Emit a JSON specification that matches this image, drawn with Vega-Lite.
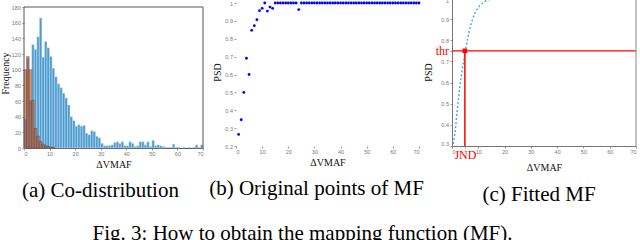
{
  "$schema": "https://vega.github.io/schema/vega-lite/v6.json",
  "padding": {"left": 0, "top": -5, "right": 0, "bottom": 0},
  "background": "white",
  "bounds": "flush",
  "spacing": 33,
  "config": {
    "view": {"stroke": null},
    "axis": {
      "grid": false,
      "labelFont": "Liberation Sans",
      "labelFontSize": 5.5,
      "labelColor": "#777",
      "labelPadding": 1.5,
      "titleFont": "Liberation Serif",
      "titleFontSize": 10,
      "titleFontWeight": "normal",
      "titleColor": "#111",
      "titlePadding": 2,
      "tickSize": 2,
      "tickColor": "#999",
      "domainColor": "#666",
      "labelOverlap": false
    },
    "title": {"font": "Liberation Serif", "fontSize": 21, "fontWeight": "normal", "color": "#000"}
  },
  "title": {"text": "Fig. 3: How to obtain the mapping function (MF).", "orient": "bottom", "anchor": "middle", "offset": 18, "dx": -17},
  "datasets": {
    "blue": [
      {"lo":0,"hi":1,"n":37},{"lo":1,"hi":2,"n":115},{"lo":2,"hi":3,"n":61},{"lo":3,"hi":4,"n":132},{"lo":4,"hi":5,"n":126},
      {"lo":5,"hi":6,"n":142},{"lo":6,"hi":7,"n":166},{"lo":7,"hi":8,"n":116},{"lo":8,"hi":9,"n":136},{"lo":9,"hi":10,"n":128},
      {"lo":10,"hi":11,"n":117},{"lo":11,"hi":12,"n":102},{"lo":12,"hi":13,"n":91},{"lo":13,"hi":14,"n":82},{"lo":14,"hi":15,"n":77},
      {"lo":15,"hi":16,"n":70},{"lo":16,"hi":17,"n":64},{"lo":17,"hi":18,"n":55},{"lo":18,"hi":19,"n":40},{"lo":19,"hi":20,"n":35},
      {"lo":20,"hi":21,"n":28},{"lo":21,"hi":22,"n":30},{"lo":22,"hi":23,"n":28},{"lo":23,"hi":24,"n":29},{"lo":24,"hi":25,"n":19},
      {"lo":25,"hi":26,"n":17},{"lo":26,"hi":27,"n":22},{"lo":27,"hi":28,"n":21},{"lo":28,"hi":29,"n":15},{"lo":29,"hi":30,"n":13},
      {"lo":30,"hi":31,"n":6},{"lo":31,"hi":32,"n":3},{"lo":32,"hi":33,"n":3},{"lo":33,"hi":34,"n":3},{"lo":34,"hi":35,"n":4},
      {"lo":35,"hi":36,"n":7},{"lo":36,"hi":37,"n":8},{"lo":37,"hi":38,"n":6},{"lo":38,"hi":39,"n":8},{"lo":39,"hi":40,"n":3},
      {"lo":40,"hi":41,"n":3},{"lo":41,"hi":42,"n":8},{"lo":42,"hi":43,"n":6},{"lo":43,"hi":44,"n":2},{"lo":44,"hi":45,"n":3},
      {"lo":45,"hi":46,"n":8},{"lo":46,"hi":47,"n":8},{"lo":47,"hi":48,"n":4},{"lo":48,"hi":49,"n":8},{"lo":49,"hi":50,"n":2},
      {"lo":50,"hi":51,"n":10},{"lo":51,"hi":52,"n":3},{"lo":52,"hi":53,"n":4},{"lo":53,"hi":54,"n":3},{"lo":54,"hi":55,"n":2},
      {"lo":55,"hi":56,"n":1},{"lo":56,"hi":57,"n":1},{"lo":57,"hi":58,"n":1},{"lo":58,"hi":59,"n":5},{"lo":59,"hi":60,"n":1},
      {"lo":60,"hi":61,"n":1},{"lo":62,"hi":63,"n":1},{"lo":64,"hi":65,"n":1},{"lo":66,"hi":67,"n":1},{"lo":67,"hi":68,"n":4},
      {"lo":68,"hi":69,"n":1},{"lo":69,"hi":70,"n":4}
    ],
    "orange": [
      {"lo":0,"hi":1,"n":100},{"lo":1,"hi":2,"n":117},{"lo":2,"hi":3,"n":100},{"lo":3,"hi":4,"n":61},{"lo":4,"hi":5,"n":25},
      {"lo":5,"hi":6,"n":15},{"lo":6,"hi":7,"n":8},{"lo":7,"hi":8,"n":5},{"lo":8,"hi":9,"n":3},{"lo":9,"hi":10,"n":2},
      {"lo":10,"hi":11,"n":1},{"lo":11,"hi":12,"n":1}
    ],
    "box": [
      {"lo":0,"hi":0,"n":0,"n2":180},{"lo":70,"hi":70,"n":0,"n2":180},{"lo":0,"hi":70,"n":180,"n2":180}
    ],
    "mf": [
      {"d":1,"p":0.265},{"d":2,"p":0.347},{"d":3,"p":0.5},{"d":4,"p":0.691},{"d":5,"p":0.6},{"d":6,"p":0.847},{"d":7,"p":0.873},
      {"d":8,"p":0.907},{"d":9,"p":0.957},{"d":10,"p":0.97},{"d":11,"p":1},{"d":12,"p":0.955},{"d":13,"p":0.977},{"d":14,"p":0.97},
      {"d":15,"p":1},{"d":16,"p":1},{"d":17,"p":1},{"d":18,"p":1},{"d":19,"p":1},{"d":20,"p":1},{"d":21,"p":1},{"d":22,"p":1},{"d":23,"p":1},
      {"d":24,"p":0.963},{"d":25,"p":1},{"d":26,"p":1},{"d":27,"p":1},{"d":28,"p":1},{"d":29,"p":1},{"d":30,"p":1},{"d":31,"p":1},
      {"d":32,"p":1},{"d":33,"p":1},{"d":34,"p":1},{"d":35,"p":1},{"d":36,"p":1},{"d":37,"p":1},{"d":38,"p":1},{"d":39,"p":1},
      {"d":40,"p":1},{"d":41,"p":1},{"d":42,"p":1},{"d":43,"p":1},{"d":44,"p":1},{"d":45,"p":1},{"d":46,"p":1},{"d":47,"p":1},
      {"d":48,"p":1},{"d":49,"p":1},{"d":50,"p":1},{"d":51,"p":1},{"d":52,"p":1},{"d":53,"p":1},{"d":54,"p":1},{"d":55,"p":1},
      {"d":56,"p":1},{"d":57,"p":1},{"d":58,"p":1},{"d":59,"p":1},{"d":60,"p":1},{"d":61,"p":1},{"d":62,"p":1},{"d":63,"p":1},
      {"d":64,"p":1},{"d":65,"p":1},{"d":66,"p":1},{"d":67,"p":1},{"d":68,"p":1},{"d":69,"p":1},{"d":70,"p":1}
    ],
    "fit": [
      {"d":0.5,"p":0.31},{"d":1,"p":0.35},{"d":2,"p":0.47},{"d":3,"p":0.58},{"d":4,"p":0.67},{"d":5,"p":0.745},{"d":6,"p":0.81},
      {"d":7,"p":0.865},{"d":8,"p":0.905},{"d":9,"p":0.935},{"d":10,"p":0.955},{"d":11,"p":0.97},{"d":12,"p":0.98},{"d":13,"p":0.987},
      {"d":14,"p":0.992},{"d":15,"p":0.995},{"d":17,"p":0.998},{"d":20,"p":1},{"d":70,"p":1}
    ],
    "jnd": [{"d":4.9,"d2":4.9,"p":0.75,"p2":0.3}],
    "thrline": [{"d":0,"d2":70,"p":0.75,"p2":0.75}],
    "rightline": [{"d":70,"d2":70,"p":0.3,"p2":1}]
  },
  "hconcat": [
    {
      "width": 179,
      "height": 150,
      "title": {"text": "(a) Co-distribution", "orient": "bottom", "offset": 11, "dx": -13},
      "encoding": {
        "x": {"field": "lo", "type": "quantitative", "scale": {"domain": [0, 70], "nice": false},
              "axis": {"values": [0,10,20,30,40,50,60,70], "title": "ΔVMAF", "domainColor": "#555", "labelOverlap": false}},
        "x2": {"field": "hi"},
        "y": {"field": "n", "type": "quantitative", "scale": {"domain": [0, 191.5], "nice": false},
              "axis": {"values": [0,20,40,60,80,100,120,140,160,180], "title": "Frequency", "domain": false, "labelOverlap": false, "titlePadding": 1}}
      },
      "layer": [
        {
          "data": {"name": "blue"},
          "mark": {"type": "rect", "color": "#0072BD", "opacity": 0.7, "stroke": "#d5e6f3", "strokeWidth": 0.5},
          "encoding": {"y2": {"datum": 0}}
        },
        {
          "data": {"name": "orange"},
          "mark": {"type": "rect", "color": "#D95319", "opacity": 0.65, "stroke": "#222", "strokeWidth": 0.6, "strokeOpacity": 0.8},
          "encoding": {"y2": {"datum": 0}}
        },
        {
          "data": {"name": "box"},
          "mark": {"type": "rule", "color": "#555", "strokeWidth": 1},
          "encoding": {"y2": {"field": "n2"}}
        }
      ]
    },
    {
      "width": 183,
      "height": 148,
      "title": {"text": "(b) Original points of MF", "orient": "bottom", "offset": 11, "dx": -11},
      "data": {"name": "mf"},
      "mark": {"type": "point", "filled": true, "size": 8, "color": "#0000ff", "opacity": 1},
      "encoding": {
        "x": {"field": "d", "type": "quantitative", "scale": {"domain": [0, 70], "nice": false},
              "axis": {"values": [0,10,20,30,40,50,60,70], "title": "ΔVMAF", "domain": false, "labelOverlap": false}},
        "y": {"field": "p", "type": "quantitative", "scale": {"domain": [0.2, 1.028], "nice": false, "zero": false},
              "axis": {"values": [0.2,0.3,0.4,0.5,0.6,0.7,0.8,0.9,1], "title": "PSD", "domain": false, "labelOverlap": false, "format": "~g"}}
      }
    },
    {
      "width": 184,
      "height": 148,
      "title": {"text": "(c) Fitted MF", "orient": "bottom", "offset": 11, "dx": -5},
      "encoding": {
        "x": {"field": "d", "type": "quantitative", "scale": {"domain": [0, 70], "nice": false},
              "axis": {"values": [0,4.9,10,20,30,40,50,60,70], "title": "ΔVMAF", "domainColor": "#777", "labelOverlap": false,
                       "labelExpr": "datum.value == 4.9 ? 'JND' : datum.label",
                       "labelColor": {"condition": {"test": "datum.value == 4.9", "value": "#ff0000"}, "value": "#777"},
                       "labelFont": {"condition": {"test": "datum.value == 4.9", "value": "Liberation Serif"}, "value": "Liberation Sans"},
                       "labelFontSize": {"condition": {"test": "datum.value == 4.9", "value": 12}, "value": 5.5}}},
        "y": {"field": "p", "type": "quantitative", "scale": {"domain": [0.3, 1], "nice": false, "zero": false},
              "axis": {"values": [0.3,0.4,0.5,0.6,0.7,0.75,0.8,0.9,1], "title": "PSD", "domainColor": "#777", "labelOverlap": false, "labelFlush": true,
                       "labelExpr": "datum.value == 0.75 ? 'thr' : format(datum.value, '~g')",
                       "labelColor": {"condition": {"test": "datum.value == 0.75", "value": "#ff0000"}, "value": "#777"},
                       "labelFont": {"condition": {"test": "datum.value == 0.75", "value": "Liberation Serif"}, "value": "Liberation Sans"},
                       "labelFontSize": {"condition": {"test": "datum.value == 0.75", "value": 12}, "value": 5.5}}}
      },
      "layer": [
        {
          "data": {"name": "fit"},
          "mark": {"type": "line", "color": "#4da3dd", "strokeWidth": 1.4, "strokeDash": [2, 2], "interpolate": "monotone"}
        },
        {
          "data": {"name": "thrline"},
          "mark": {"type": "rule", "color": "#ff0000", "strokeWidth": 1.2},
          "encoding": {"x2": {"field": "d2"}, "y2": {"field": "p2"}}
        },
        {
          "data": {"name": "jnd"},
          "mark": {"type": "rule", "color": "#ff0000", "strokeWidth": 1.5},
          "encoding": {"x2": {"field": "d2"}, "y2": {"field": "p2"}}
        },
        {
          "data": {"name": "jnd"},
          "mark": {"type": "point", "shape": "square", "filled": true, "color": "#ff0000", "size": 22, "opacity": 1}
        },
        {
          "data": {"name": "rightline"},
          "mark": {"type": "rule", "color": "#888", "strokeWidth": 1},
          "encoding": {"x2": {"field": "d2"}, "y2": {"field": "p2"}}
        }
      ]
    }
  ]
}
